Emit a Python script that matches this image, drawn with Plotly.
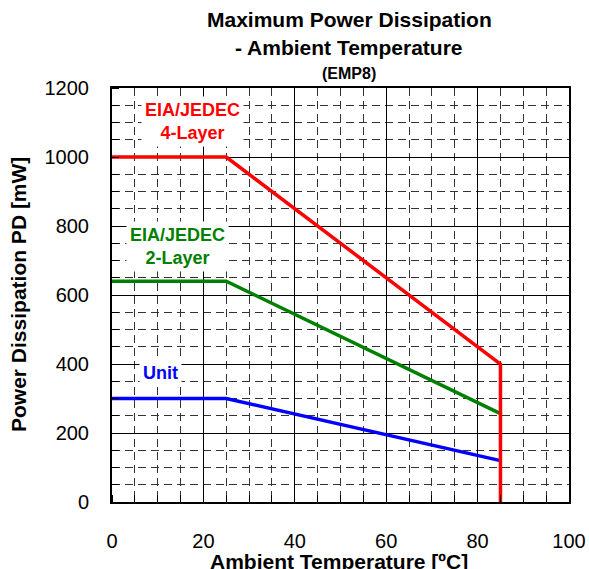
import plotly.graph_objects as go

temp_4layer = [0, 25, 85, 85]
pd_4layer = [1000, 1000, 400, 0]
temp_2layer = [0, 25, 85]
pd_2layer = [640, 640, 256]
temp_unit = [0, 25, 85]
pd_unit = [300, 300, 120]

x_ticks = [0, 20, 40, 60, 80, 100]
y_ticks = [0, 200, 400, 600, 800, 1000, 1200]

FONT = "Liberation Sans, Arial, sans-serif"

fig = go.Figure()
fig.add_trace(go.Scatter(x=temp_2layer, y=pd_2layer, mode="lines",
                         line=dict(color="#008000", width=3.5), showlegend=False))
fig.add_trace(go.Scatter(x=temp_unit, y=pd_unit, mode="lines",
                         line=dict(color="#0000FF", width=3.5), showlegend=False))
fig.add_trace(go.Scatter(x=temp_4layer, y=pd_4layer, mode="lines",
                         line=dict(color="#FF0000", width=3.5), showlegend=False))

axis_common = dict(
    showline=True, linecolor="black", linewidth=2, mirror=True,
    showgrid=True, gridcolor="black", gridwidth=1, automargin=False,
    zeroline=False, ticks="", tickfont=dict(family=FONT, size=20, color="black"),
)

fig.update_xaxes(range=[0, 100], tickvals=x_ticks, ticklabelstandoff=20,
                 minor=dict(dtick=5, tick0=0, showgrid=True, gridcolor="#333333",
                            griddash="8px,5px", gridwidth=1, ticks="inside",
                            ticklen=7, tickcolor="black"),
                 **axis_common)
fig.update_yaxes(range=[0, 1200], tickvals=y_ticks, ticklabelstandoff=17,
                 minor=dict(dtick=50, tick0=0, showgrid=True, gridcolor="#333333",
                            griddash="8px,5px", gridwidth=1, ticks="inside",
                            ticklen=7, tickcolor="black"),
                 **axis_common)

ann_font = dict(family=FONT, size=18)
fig.add_annotation(x=17.6, y=1104, text="<b>EIA/JEDEC<br>4-Layer</b>", showarrow=False,
                   font=dict(color="#FF0000", **ann_font), bgcolor="white", borderpad=3)
fig.add_annotation(x=14.3, y=740, text="<b>EIA/JEDEC<br>2-Layer</b>", showarrow=False,
                   font=dict(color="#008000", **ann_font), bgcolor="white", borderpad=3)
fig.add_annotation(x=10.6, y=374, text="<b>Unit</b>", showarrow=False,
                   font=dict(color="#0000FF", **ann_font), bgcolor="white", borderpad=3)

W, H = 589, 569
plot_l, plot_r, plot_t, plot_b = 112, 569, 88, 502
def px_x(px):
    return (px - plot_l) / (plot_r - plot_l)
def px_y(py):
    return (plot_b - py) / (plot_b - plot_t)

title_x = px_x(349)
fig.add_annotation(xref="paper", yref="paper", x=title_x, y=px_y(20), yanchor="middle",
                   text="<b>Maximum Power Dissipation</b>", showarrow=False,
                   font=dict(family=FONT, size=21, color="black"))
fig.add_annotation(xref="paper", yref="paper", x=title_x, y=px_y(47), yanchor="middle",
                   text="<b>- Ambient Temperature</b>", showarrow=False,
                   font=dict(family=FONT, size=21, color="black"))
fig.add_annotation(xref="paper", yref="paper", x=title_x, y=px_y(73), yanchor="middle",
                   text="<b>(EMP8)</b>", showarrow=False,
                   font=dict(family=FONT, size=16, color="black"))

fig.add_annotation(xref="paper", yref="paper", x=px_x(339), y=px_y(561), yanchor="middle",
                   text="<b>Ambient Temperature [ºC]</b>", showarrow=False,
                   font=dict(family=FONT, size=21, color="black"))
fig.add_annotation(xref="paper", yref="paper", x=px_x(18), y=px_y(295), xanchor="center",
                   yanchor="middle", textangle=-90,
                   text="<b>Power Dissipation PD [mW]</b>", showarrow=False,
                   font=dict(family=FONT, size=21, color="black"))

fig.update_layout(width=W, height=H,
                  margin=dict(l=plot_l, r=W - plot_r, t=plot_t, b=H - plot_b),
                  plot_bgcolor="white", paper_bgcolor="white", hovermode=False)

fig.write_html("out.html", config={"displayModeBar": False, "staticPlot": True},
               post_script="document.body.style.margin='0';document.body.style.overflow='hidden';")
